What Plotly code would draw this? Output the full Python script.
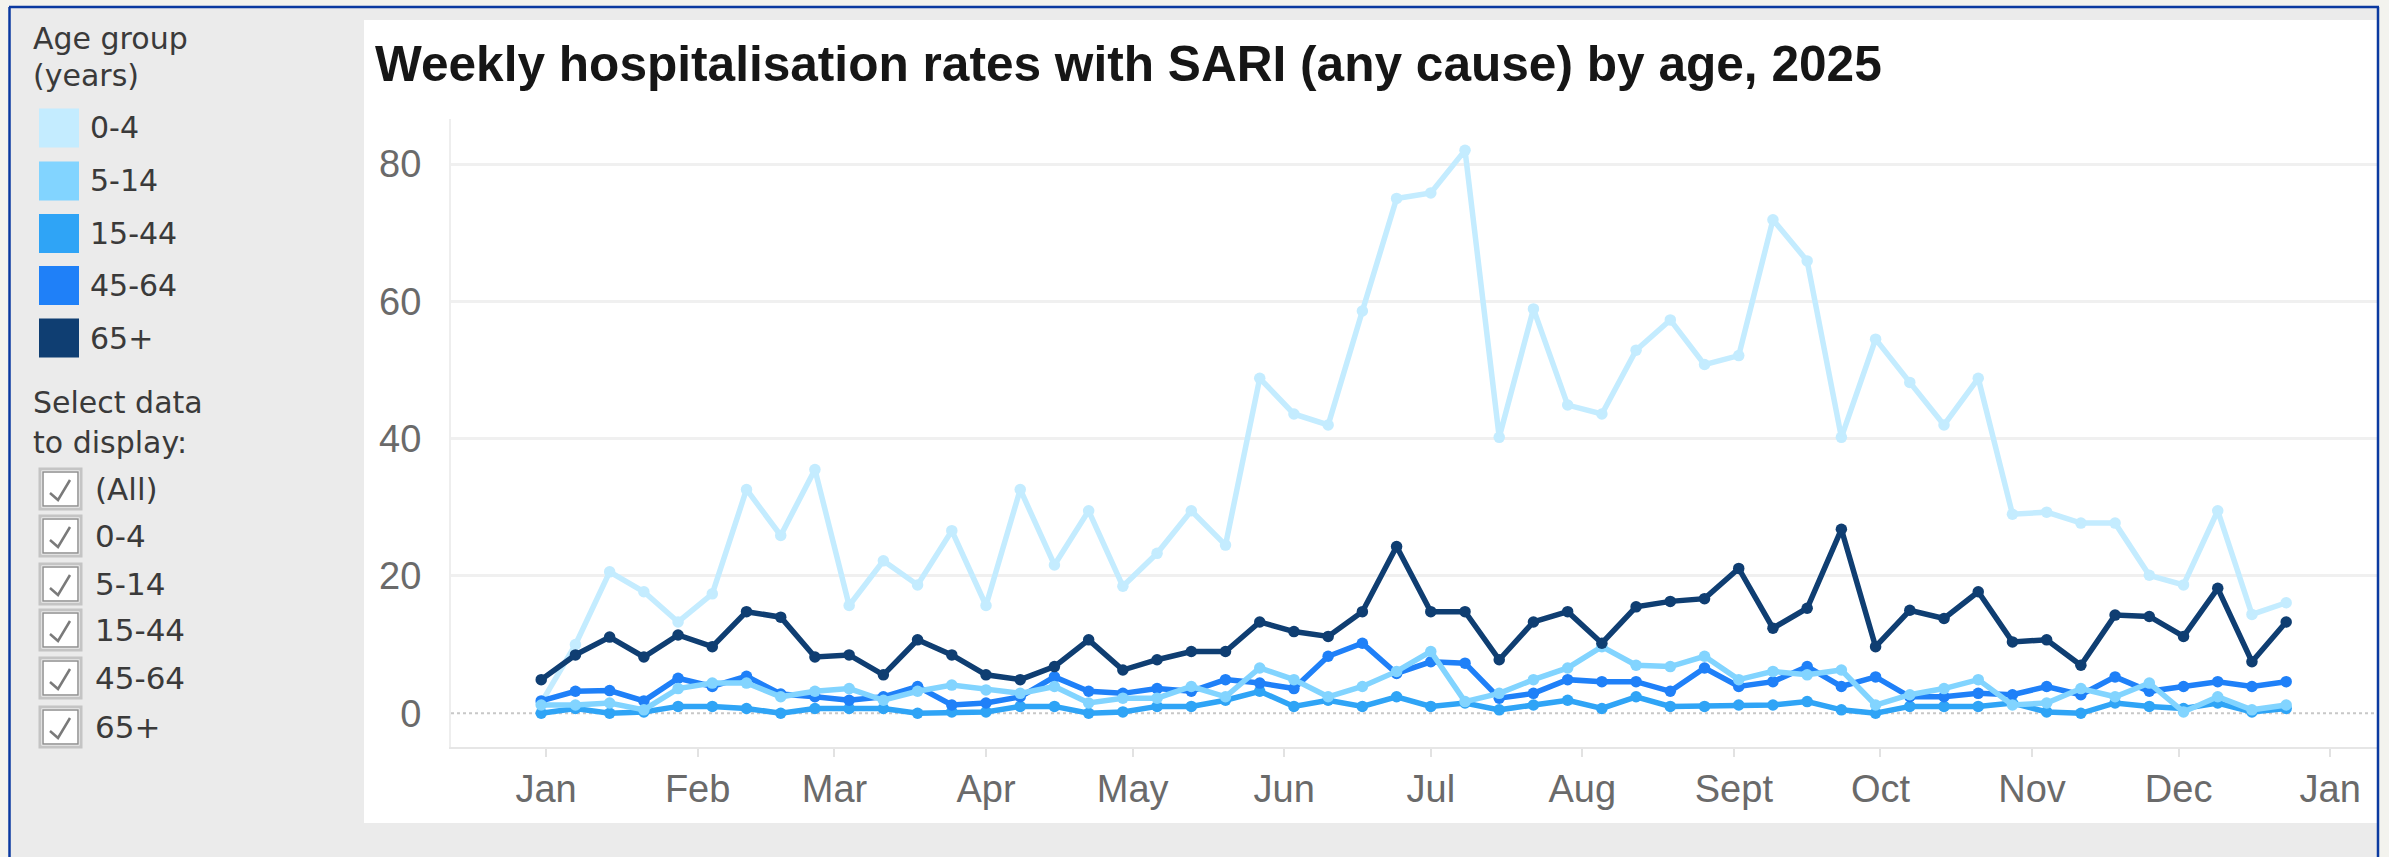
import plotly.graph_objects as go
import pandas as pd

W, H = 2389, 857

# ---------------- data ----------------
week_start = pd.date_range("2024-12-31", periods=52, freq="7D")

age_groups = ["0-4", "5-14", "15-44", "45-64", "65+"]
group_colors = ["#c4ecff", "#82d4ff", "#2fa4f6", "#1f80f8", "#0f3e72"]

rate_0_4 = [1.5, 10.0, 20.6, 17.7, 13.3, 17.4, 32.6, 25.9, 35.5, 15.7, 22.2, 18.7, 26.6,
            15.7, 32.6, 21.6, 29.5, 18.5, 23.3, 29.5, 24.5, 48.8, 43.6, 42.0, 58.6, 75.0,
            75.8, 82.0, 40.2, 58.9, 44.9, 43.6, 52.9, 57.3, 50.8, 52.1, 71.9, 65.9, 40.2,
            54.5, 48.2, 42.0, 48.8, 29.0, 29.3, 27.7, 27.7, 20.1, 18.7, 29.5, 14.4, 16.1]
rate_5_14 = [1.2, 1.2, 1.5, 0.5, 3.6, 4.4, 4.4, 2.4, 3.2, 3.6, 1.9, 3.2, 4.1,
             3.4, 2.9, 3.9, 1.5, 2.2, 2.2, 3.9, 2.4, 6.6, 4.9, 2.4, 3.9, 6.1,
             9.0, 1.7, 2.9, 4.9, 6.6, 9.7, 7.0, 6.8, 8.3, 4.9, 6.1, 5.6, 6.3,
             1.2, 2.7, 3.6, 4.9, 1.2, 1.5, 3.6, 2.4, 4.4, 0.2, 2.4, 0.5, 1.2]
rate_15_44 = [0.0, 0.7, 0.0, 0.2, 1.0, 1.0, 0.7, 0.0, 0.7, 0.7, 0.7, 0.0, 0.2,
              0.2, 1.0, 1.0, 0.0, 0.2, 1.0, 1.0, 1.9, 3.2, 1.0, 1.9, 1.0, 2.4,
              1.0, 1.5, 0.5, 1.2, 1.9, 0.7, 2.4, 1.0, 1.0, 1.2, 1.2, 1.7, 0.5,
              0.0, 1.0, 1.0, 1.0, 1.5, 0.2, 0.0, 1.5, 1.0, 0.7, 1.5, 0.2, 0.7]
rate_45_64 = [1.8, 3.2, 3.3, 1.8, 5.1, 3.9, 5.4, 2.8, 2.4, 1.9, 2.4, 3.9, 1.2,
              1.5, 2.4, 5.3, 3.2, 2.9, 3.6, 3.2, 4.9, 4.4, 3.6, 8.3, 10.2, 5.8,
              7.5, 7.3, 2.2, 2.9, 4.9, 4.6, 4.6, 3.2, 6.6, 3.9, 4.6, 6.8, 3.9,
              5.3, 2.4, 2.4, 2.9, 2.7, 3.9, 2.7, 5.3, 3.2, 3.9, 4.6, 3.9, 4.6]
rate_65_plus = [4.9, 8.5, 11.1, 8.2, 11.4, 9.7, 14.8, 14.0, 8.2, 8.5, 5.6, 10.7, 8.5,
                5.6, 4.9, 6.8, 10.7, 6.3, 7.8, 9.0, 9.0, 13.3, 11.9, 11.2, 14.8, 24.3,
                14.8, 14.8, 7.8, 13.3, 14.8, 10.2, 15.5, 16.3, 16.7, 21.1, 12.4, 15.3, 26.8,
                9.7, 15.0, 13.8, 17.7, 10.4, 10.7, 7.0, 14.3, 14.1, 11.2, 18.2, 7.5, 13.3]

month_ticks = ["2025-01-01", "2025-02-01", "2025-03-01", "2025-04-01", "2025-05-01",
               "2025-06-01", "2025-07-01", "2025-08-01", "2025-09-01", "2025-10-01",
               "2025-11-01", "2025-12-01", "2026-01-01"]
month_labels = ["Jan", "Feb", "Mar", "Apr", "May", "Jun", "Jul", "Aug", "Sept",
                "Oct", "Nov", "Dec", "Jan"]
y_ticks = [0, 20, 40, 60, 80]

title_text = "Weekly hospitalisation rates with SARI (any cause) by age, 2025"
filter_items = ["(All)"] + age_groups

series = {
    "0-4": rate_0_4,
    "5-14": rate_5_14,
    "15-44": rate_15_44,
    "45-64": rate_45_64,
    "65+": rate_65_plus,
}
color_of = dict(zip(age_groups, group_colors))


def px(x):
    return x / W


def py(y):
    return 1 - y / H


fig = go.Figure()
draw_order = ["0-4", "15-44", "45-64", "5-14", "65+"]
for g in draw_order:
    fig.add_trace(go.Scatter(
        x=week_start, y=series[g], name=g, mode="lines+markers",
        line=dict(color=color_of[g], width=5.5),
        marker=dict(color=color_of[g], size=11.5),
        showlegend=False,
    ))

shapes = []
annos = []

# page frame
shapes.append(dict(type="rect", xref="paper", yref="paper", x0=0, x1=1, y0=0, y1=1,
                   fillcolor="#ebebeb", line=dict(width=0), layer="below"))
shapes.append(dict(type="rect", xref="paper", yref="paper", x0=0, x1=1, y0=py(7), y1=1,
                   fillcolor="#f3f3ee", line=dict(width=0), layer="below"))
shapes.append(dict(type="rect", xref="paper", yref="paper", x0=0, x1=px(9), y0=0, y1=1,
                   fillcolor="#f3f3ee", line=dict(width=0), layer="below"))
shapes.append(dict(type="rect", xref="paper", yref="paper", x0=px(2379), x1=1, y0=0, y1=1,
                   fillcolor="#f3f3ee", line=dict(width=0), layer="below"))
# white chart panel
shapes.append(dict(type="rect", xref="paper", yref="paper", x0=px(364), x1=px(2377),
                   y0=py(823), y1=py(20), fillcolor="#ffffff", line=dict(width=0), layer="below"))
# blue border
for (x0, y0, x1, y1) in [(9, 7, 2379, 7), (9.5, 7, 9.5, 857), (2378, 7, 2378, 857)]:
    shapes.append(dict(type="line", xref="paper", yref="paper", x0=px(x0), x1=px(x1),
                       y0=py(y0), y1=py(y1), line=dict(color="#0b3aa0", width=2.5)))

# zero line (dotted)
shapes.append(dict(type="line", xref="paper", yref="y", x0=px(451), x1=px(2377), y0=0, y1=0,
                   line=dict(color="#c8c8c8", width=2, dash="dot"), layer="below"))

# title
annos.append(dict(text="<b>" + title_text + "</b>", xref="paper", yref="paper",
                  x=px(373), y=py(64), xanchor="left", yanchor="middle", showarrow=False,
                  font=dict(family="Liberation Sans, Arial", size=49.6, color="#161616")))

side_font = dict(family="DejaVu Sans", size=30, color="#3a3a3a")
annos.append(dict(text="Age group", xref="paper", yref="paper", x=px(31), y=py(39),
                  xanchor="left", yanchor="middle", showarrow=False, font=side_font))
annos.append(dict(text="(years)", xref="paper", yref="paper", x=px(31), y=py(75),
                  xanchor="left", yanchor="middle", showarrow=False, font=side_font))

legend_centers = [128, 181, 233.5, 285.5, 338]
for g, cy in zip(age_groups, legend_centers):
    shapes.append(dict(type="rect", xref="paper", yref="paper", x0=px(39), x1=px(79),
                       y0=py(cy + 19.5), y1=py(cy - 19.5), fillcolor=color_of[g],
                       line=dict(width=0)))
    annos.append(dict(text=g, xref="paper", yref="paper", x=px(88), y=py(cy),
                      xanchor="left", yanchor="middle", showarrow=False, font=side_font))

annos.append(dict(text="Select data", xref="paper", yref="paper", x=px(31), y=py(403),
                  xanchor="left", yanchor="middle", showarrow=False, font=side_font))
annos.append(dict(text="to display:", xref="paper", yref="paper", x=px(31), y=py(442),
                  xanchor="left", yanchor="middle", showarrow=False, font=side_font))

check_centers = [489, 536, 584, 630, 678, 727]
for item, cy in zip(filter_items, check_centers):
    shapes.append(dict(type="rect", xref="paper", yref="paper", x0=px(40), x1=px(81),
                       y0=py(cy + 20), y1=py(cy - 20), fillcolor="#ffffff",
                       line=dict(color="#c4c4c4", width=3)))
    shapes.append(dict(type="rect", xref="paper", yref="paper", x0=px(43), x1=px(78),
                       y0=py(cy + 17), y1=py(cy - 17), fillcolor="rgba(0,0,0,0)",
                       line=dict(color="#8e8e8e", width=1.5)))
    path = "M {:.5f},{:.5f} L {:.5f},{:.5f} L {:.5f},{:.5f}".format(
        px(50), py(cy + 4), px(58), py(cy + 11), px(70), py(cy - 9))
    shapes.append(dict(type="path", xref="paper", yref="paper", path=path,
                       line=dict(color="#7a7a7a", width=2.5)))
    annos.append(dict(text=item, xref="paper", yref="paper", x=px(93), y=py(cy),
                      xanchor="left", yanchor="middle", showarrow=False,
                      font=dict(family="DejaVu Sans", size=31, color="#3a3a3a")))

axis_font = dict(family="Liberation Sans, Arial", size=38, color="#6a6a6a")

fig.update_layout(
    width=W, height=H,
    margin=dict(l=0, r=0, t=0, b=0),
    paper_bgcolor="#ebebeb",
    plot_bgcolor="#ffffff",
    shapes=shapes,
    annotations=annos,
    showlegend=False,
    xaxis=dict(
        domain=[px(451), px(2377)],
        range=["2024-12-12 13:00", "2026-01-10 14:00"],
        tickvals=month_ticks, ticktext=month_labels,
        showgrid=False, zeroline=False,
        showline=True, linecolor="#e6e6e6", linewidth=2,
        ticks="outside", ticklen=8, tickwidth=2, tickcolor="#e2e2e2",
        tickfont=axis_font, ticklabelstandoff=0,
    ),
    yaxis=dict(
        domain=[py(746.7), py(119)],
        range=[-4.87, 86.57],
        tickvals=y_ticks,
        showgrid=True, gridcolor="#f0f0f0", gridwidth=2.5,
        zeroline=True, zerolinecolor="rgba(0,0,0,0)", zerolinewidth=1,
        showline=True, linecolor="#eeeeee", linewidth=2,
        ticks="", tickfont=axis_font, ticklabelstandoff=20,
    ),
)

fig.write_html("out.html", config={"displayModeBar": False},
               post_script="document.body.style.margin='0';document.body.style.overflow='hidden';")
